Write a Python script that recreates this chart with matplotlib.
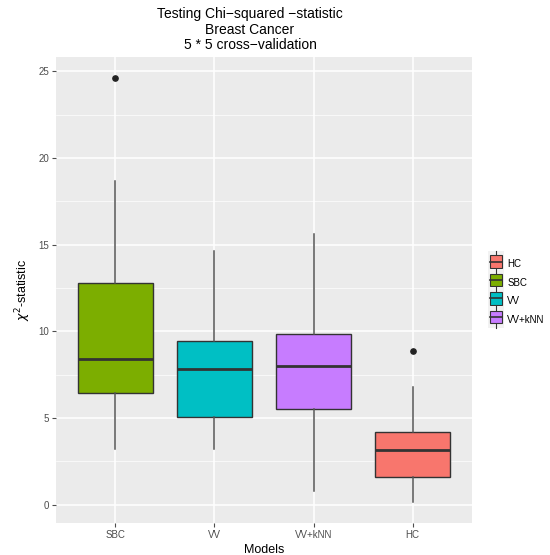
import matplotlib
matplotlib.use("Agg")
import matplotlib.pyplot as plt
from matplotlib.legend_handler import HandlerBase
from matplotlib.patches import Rectangle, Patch
from matplotlib.lines import Line2D

plt.rcParams['font.family'] = ['Liberation Sans', 'DejaVu Sans']

# box statistics (order on the x axis)
models = ['SBC', 'VV', 'VV+kNN', 'HC']
whislo = [3.22, 3.22, 0.81, 0.17]
q1 = [6.44, 5.09, 5.52, 1.62]
med = [8.43, 7.85, 8.00, 3.18]
q3 = [12.77, 9.43, 9.84, 4.17]
whishi = [18.65, 14.66, 15.62, 6.77]
outliers = [[24.6], [], [], [8.89]]
colors = {'HC': '#F8766D', 'SBC': '#7CAE00', 'VV': '#00BFC4', 'VV+kNN': '#C77CFF'}
legend_order = ['HC', 'SBC', 'VV', 'VV+kNN']

fig = plt.figure(figsize=(5.5, 5.55), dpi=100)
ax = fig.add_axes([56 / 550, 1 - 523 / 555, (472 - 56) / 550, (523 - 57) / 555])
ax.set_facecolor('#EBEBEB')
for s in ax.spines.values():
    s.set_visible(False)

stats = []
for i, m in enumerate(models):
    stats.append(dict(label=m, whislo=whislo[i], q1=q1[i], med=med[i],
                      q3=q3[i], whishi=whishi[i], fliers=outliers[i]))

pos = list(range(1, len(models) + 1))
bp = ax.bxp(stats, positions=pos, widths=0.75, patch_artist=True, showcaps=False,
            boxprops=dict(edgecolor='#333333', linewidth=1.0),
            medianprops=dict(color='#333333', linewidth=2.0),
            whiskerprops=dict(color='#555555', linewidth=1.1),
            flierprops=dict(marker='o', markerfacecolor='#222222', markeredgecolor='#222222',
                            markersize=3.8))
for patch, m in zip(bp['boxes'], models):
    patch.set_facecolor(colors[m])
for a in bp['boxes'] + bp['whiskers'] + bp['medians'] + bp['fliers']:
    a.set_zorder(3)

lo = min(whislo)
hi = max(max(o) if o else 0 for o in outliers)
pad = (hi - lo) * 0.05
ax.set_ylim(lo - pad, hi + pad)
ax.set_xlim(0.4, len(models) + 0.6)

ax.set_yticks([0, 5, 10, 15, 20, 25])
ax.set_yticks([2.5, 7.5, 12.5, 17.5, 22.5], minor=True)
ax.set_xticks(pos)
ax.set_xticklabels(models)
ax.grid(which='major', color='white', linewidth=1.1)
ax.grid(which='minor', axis='y', color='white', linewidth=0.5)
ax.set_axisbelow(True)
ax.tick_params(which='major', length=3, color='#4D4D4D', labelcolor='#4D4D4D',
               labelsize=7, pad=2)
ax.tick_params(which='minor', length=0)

ax.set_xlabel('Models', fontsize=9, labelpad=3)
ax.set_ylabel(r'$\chi^2$-statistic', fontsize=9, labelpad=4)

fig.text(250 / 550, 1 - 7 / 555,
         'Testing Chi\u2212squared \u2212statistic\nBreast Cancer\n5 * 5 cross\u2212validation',
         ha='center', va='top', fontsize=10, linespacing=1.15)


class BoxKey(HandlerBase):
    def create_artists(self, legend, orig, xd, yd, w, h, fontsize, trans):
        x0, y0 = -xd, -yd
        H = h + yd
        bg = Rectangle((x0, y0), w, H, facecolor='#F2F2F2', edgecolor='none',
                       transform=trans)
        cx = x0 + w / 2
        top = Line2D([cx, cx], [y0 + H * 0.78, y0 + H], color='#333333', lw=0.8,
                     transform=trans)
        bot = Line2D([cx, cx], [y0, y0 + H * 0.22], color='#333333', lw=0.8,
                     transform=trans)
        box = Rectangle((x0 + w * 0.1, y0 + H * 0.22), w * 0.8, H * 0.56,
                        facecolor=orig.get_facecolor(), edgecolor='#333333', lw=0.8,
                        transform=trans)
        mid = Line2D([x0 + w * 0.1, x0 + w * 0.9], [y0 + H / 2] * 2, color='#333333',
                     lw=1.2, transform=trans)
        return [bg, top, bot, box, mid]


handles = [Patch(facecolor=colors[m]) for m in legend_order]
fig.legend(handles, legend_order, handler_map={Patch: BoxKey()},
           loc='center left', bbox_to_anchor=(488 / 550, 1 - 292 / 555),
           frameon=False, fontsize=7, handlelength=1.6, handleheight=2.3,
           handletextpad=0.4, labelspacing=0.15, borderaxespad=0, borderpad=0)

fig.savefig('out.png', dpi=100)
